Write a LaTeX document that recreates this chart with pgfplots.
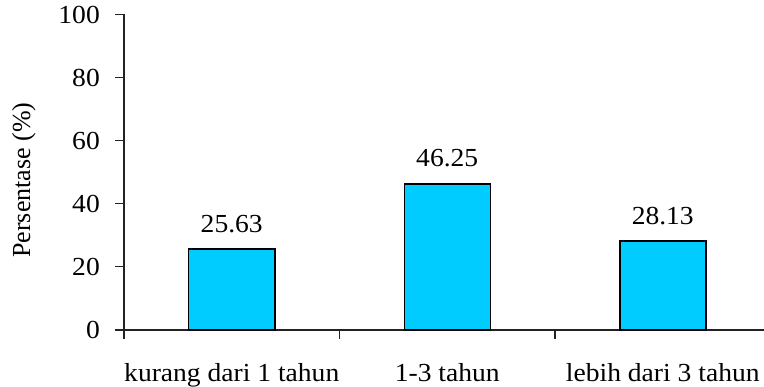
\documentclass[border=0pt]{standalone}
\usepackage{pgfplots}
\pgfplotsset{compat=1.18}
\usepackage{fontspec}
\setmainfont{Liberation Serif}[FakeStretch=1.06]
\newfontfamily\ylfont{Liberation Serif}
\definecolor{barcyan}{HTML}{00CCFF}
\definecolor{axgray}{HTML}{222222}
\begin{document}
\begin{tikzpicture}[font=\fontsize{26bp}{30bp}\selectfont]
\useasboundingbox (-124bp,-57bp) rectangle (640bp,330bp);
\begin{axis}[
  at={(0,0)}, anchor=south west,
  scale only axis,
  x=215.5bp, y=3.155bp,
  xmin=-0.5, xmax=2.47,
  ymin=0, ymax=100,
  axis x line*=bottom, axis y line*=left,
  axis line style={axgray, line width=1.1bp},
  every tick/.style={axgray, line width=1.1bp},
  tick align=outside,
  major tick length=9bp,
  ytick={0,20,40,60,80,100},
  /pgf/number format/assume math mode=true,
  yticklabel style={inner sep=0pt, anchor=east, xshift=-15bp},
  xtick={-0.5,0.5,1.5},
  xticklabels={},
  extra x ticks={0,1,2},
  extra x tick labels={kurang dari 1 tahun, 1-3 tahun, lebih dari 3 tahun},
  extra x tick style={major tick length=0pt, tick label style={inner sep=0pt, anchor=north, yshift=-33bp}},
  ylabel={Persentase (\%)},
  ylabel style={at={(axis description cs:-0.175,0.475)}, anchor=north, inner sep=0pt, font=\ylfont\fontsize{26bp}{30bp}\selectfont},
  ybar, bar width=86bp,
  nodes near coords,
  nodes near coords style={inner sep=0pt, anchor=south, yshift=16bp, /pgf/number format/.cd, fixed, precision=2, fixed zerofill, assume math mode=true},
  clip=false,
]
\addplot[fill=barcyan, draw=black, line width=1.5bp] coordinates {(0,25.63) (1,46.25) (2,28.13)};
\end{axis}
\end{tikzpicture}
\end{document}
